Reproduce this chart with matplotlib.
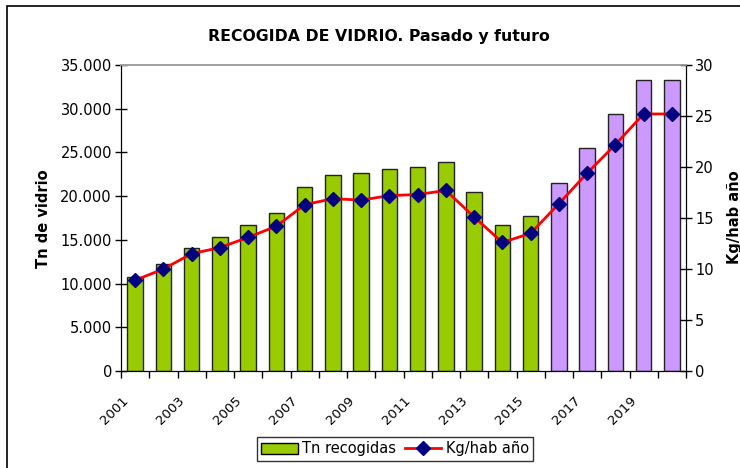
import numpy as np
import matplotlib
matplotlib.use("Agg")
import matplotlib.pyplot as plt
import matplotlib.transforms as mtransforms
from matplotlib.patches import Rectangle
from matplotlib.ticker import FuncFormatter, FixedLocator

years = list(range(2001, 2021))
tn = [10700, 12200, 14100, 15300, 16650, 18100, 21070, 22400, 22670, 23120,
      23280, 23890, 20460, 16650, 17720, 21520, 25520, 29410, 33230, 33230]
kg = [8.9, 10.0, 11.5, 12.1, 13.1, 14.2, 16.3, 16.9, 16.75, 17.2,
      17.3, 17.7, 15.1, 12.6, 13.5, 16.4, 19.4, 22.2, 25.2, 25.2]
n_past = 15  # 2001-2015 real, rest forecast

plt.rcParams['font.family'] = ['DejaVu Sans']

fig = plt.figure(figsize=(7.4, 4.68), dpi=100)
ax = fig.add_axes([121/740, 1-371/468, 565/740, 306/468])
ax2 = ax.twinx()

x = np.arange(len(years))
colors = ['#99CC00'] * n_past + ['#CC99FF'] * (len(years) - n_past)
bars = ax.bar(x, tn, width=0.55, color=colors, edgecolor='#222222', linewidth=1,
              zorder=2, label='Tn recogidas')
line, = ax2.plot(x, kg, color='#FF0000', linewidth=2, marker='D', markersize=7.5,
                 markerfacecolor='#000080', markeredgecolor='#000080',
                 label='Kg/hab año', zorder=3)

ax.set_xlim(-0.5, len(years) - 0.5)
ax.set_ylim(0, 35000)
ax2.set_ylim(0, 30)
ax.set_yticks(range(0, 35001, 5000))
ax.yaxis.set_major_formatter(FuncFormatter(lambda v, p: f"{int(v):,}".replace(",", ".")))
ax2.set_yticks(range(0, 31, 5))

ax.xaxis.set_major_locator(FixedLocator(np.arange(-0.5, len(years), 1)))
ax.xaxis.set_major_formatter(FuncFormatter(lambda v, p: ""))
ax.xaxis.set_minor_locator(FixedLocator(x[::2]))
ax.set_xticklabels([str(y) for y in years[::2]], minor=True, rotation=45,
                   ha='right', va='center', rotation_mode='anchor', fontsize=9.5)
ax.tick_params(axis='x', which='major', direction='out', length=5, width=1)
ax.tick_params(axis='x', which='minor', length=0, pad=20)
shift = mtransforms.ScaledTranslation(-9/100, 0, fig.dpi_scale_trans)
for lab in ax.get_xticklabels(minor=True):
    lab.set_transform(lab.get_transform() + shift)
ax.tick_params(axis='y', direction='inout', length=9, width=1, labelsize=10.5, pad=2)
ax2.tick_params(axis='y', direction='inout', length=9, width=1, labelsize=10.5, pad=2)

for a in (ax, ax2):
    a.spines['top'].set_color('#A0A0A0')
    a.spines['top'].set_linewidth(1.2)
ax.set_zorder(ax2.get_zorder() - 1)
ax2.patch.set_visible(False)

fig.text(379/740, 1-37/468, "RECOGIDA DE VIDRIO. Pasado y futuro", ha='center',
         va='center', fontsize=11.3, fontweight='bold')
fig.text(43/740, 1-219/468, "Tn de vidrio", rotation=90, ha='center', va='center',
         fontsize=10.5, fontweight='bold')
fig.text(735/740, 1-217/468, "Kg/hab año", rotation=90, ha='center', va='center',
         fontsize=10.5, fontweight='bold')

leg = fig.legend([bars, line], ['Tn recogidas', 'Kg/hab año'], loc='center',
                 bbox_to_anchor=(395/740, 1-449/468), ncol=2, frameon=True,
                 fancybox=False, edgecolor='black', fontsize=10.5,
                 handlelength=2.5, handletextpad=0.3, columnspacing=0.6,
                 borderpad=0.3)
leg.get_frame().set_linewidth(1)
leg.legend_handles[0].set_color('#99CC00')
leg.legend_handles[0].set_edgecolor('black')

fig.patches.append(Rectangle((7/740, -0.1), 2, 1.1 - 6/468, transform=fig.transFigure,
                             fill=False, edgecolor='black', linewidth=1.2))

fig.savefig("out.png", dpi=100)
